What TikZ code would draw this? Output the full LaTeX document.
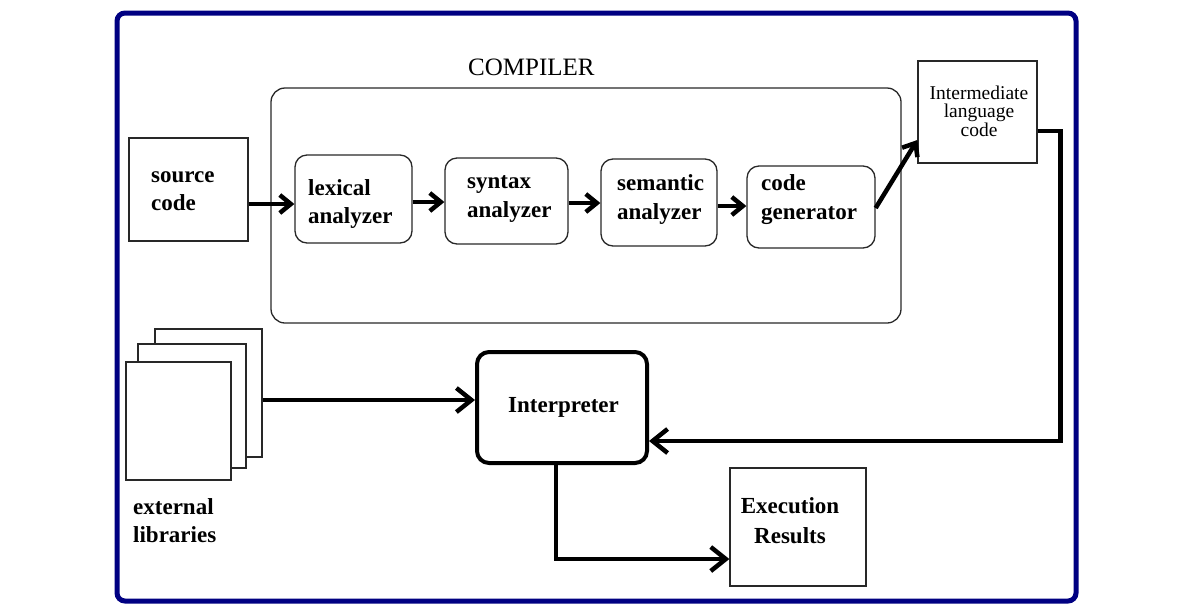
\documentclass[tikz,border=0pt]{standalone}
\usepackage{fontspec}
\setmainfont{Liberation Serif}
\usetikzlibrary{arrows.meta}
\definecolor{navyb}{RGB}{0,0,130}
\definecolor{thinl}{RGB}{40,40,40}
\begin{document}
\begin{tikzpicture}[x=1pt,y=-1pt,
  thinbox/.style={draw=thinl,line width=1.3pt,inner sep=0pt,fill=white},
  rbox/.style={thinbox,rounded corners=12pt},
  bt/.style={anchor=base west,inner sep=0pt,text width=110pt,align=left,
     font=\fontsize{23}{28}\selectfont\bfseries},
  arrA/.style={line width=4.5pt,-{Straight Barb[length=11pt,width=18pt]}},
  arrB/.style={line width=4.5pt,-{Straight Barb[length=15pt,width=24pt]}},
]
\useasboundingbox (0,0) rectangle (1193,614);
\fill[white] (0,0) rectangle (1193,614);
% outer border
\draw[navyb,line width=5pt,rounded corners=8pt] (117,13) rectangle (1076,601);

% compiler container
\node[thinbox,rounded corners=14pt,minimum width=630pt,minimum height=235pt] (comp) at (586,205.5) {};
\node[anchor=base west,inner sep=0pt,font=\fontsize{25}{28}\selectfont] (compt) at (468,75) {COMPILER};

% boxes
\node[thinbox,minimum width=119pt,minimum height=103pt] (src) at (188.5,189.5) {};
\node[rbox,minimum width=117pt,minimum height=88pt] (lex) at (353.5,199) {};
\node[rbox,minimum width=123pt,minimum height=86pt] (syn) at (506.5,201) {};
\node[rbox,minimum width=116pt,minimum height=87pt] (sem) at (659,202.5) {};
\node[rbox,minimum width=128pt,minimum height=82pt] (cg) at (811,207) {};
\node[thinbox,minimum width=119pt,minimum height=102pt] (int) at (977.5,112) {};
\node[draw,line width=4pt,rounded corners=12pt,inner sep=0pt,minimum width=170pt,minimum height=111pt] (interp) at (562,407.5) {};
\node[thinbox,minimum width=136pt,minimum height=118pt] (exec) at (798,527) {};

% pages
\node[thinbox,minimum width=107pt,minimum height=128pt] (pg3) at (208.5,393) {};
\node[thinbox,minimum width=108pt,minimum height=124pt] (pg2) at (192,406) {};
\node[thinbox,minimum width=105pt,minimum height=118pt] (pg1) at (178.5,421) {};

% texts
\node[bt] (srct) at (151,182) {source\\code};
\node[bt] (lext) at (308,195) {lexical\\analyzer};
\node[bt,font=\fontsize{23}{29}\selectfont\bfseries] (synt) at (467,188) {syntax\\analyzer};
\node[bt,font=\fontsize{23}{29}\selectfont\bfseries] (semt) at (617,190) {semantic\\analyzer};
\node[bt,font=\fontsize{23}{29}\selectfont\bfseries] (cgt) at (761,190) {code\\generator};
\node[anchor=base,inner sep=0pt,text width=115pt,align=center,font=\fontsize{19.5}{18.5}\selectfont] (intt) at (979,99) {Intermediate\\language\\code};
\node[bt] (interpt) at (508,412) {Interpreter};
\node[bt] (libt) at (133,514) {external\\libraries};
\node[anchor=base,inner sep=0pt,text width=130pt,align=center,font=\fontsize{23}{30}\selectfont\bfseries] (exect) at (790,513) {Execution\\Results};

% compiler arrows
\coordinate (a1) at ([yshift=-5pt]lex.west);
\draw[arrA] (src.east |- a1) -- (a1);
\draw[arrA] ([yshift=-3pt]lex.east) -- ([yshift=-1pt]syn.west);
\draw[arrA] ([yshift=-2pt]syn.east) -- ([yshift=-0.5pt]sem.west);
\draw[arrA] ([yshift=-3.5pt]sem.east) -- ([yshift=1pt]cg.west);
\draw[arrA] ([yshift=-1pt]cg.east) -- ([yshift=-28pt]int.west);

% outer connectors
\coordinate (rc) at ([shift={(23pt,-33.5pt)}]int.east |- interp.east);
\draw[arrB] ([yshift=-19pt]int.east) -| (rc) -- ([yshift=-33.5pt]interp.east);
\coordinate (a2) at ([yshift=7.5pt]interp.west);
\draw[arrB] (pg3.east |- a2) -- (a2);
\draw[arrB] ([xshift=-6pt]interp.south) |- ([yshift=-32pt]exec.west);
\end{tikzpicture}
\end{document}
